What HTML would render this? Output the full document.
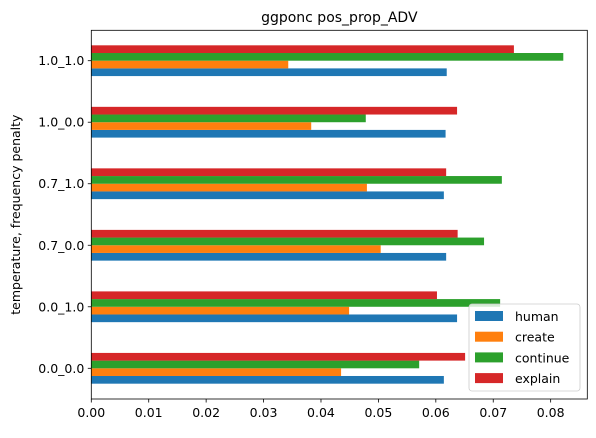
<!DOCTYPE html>
<html><head><meta charset="utf-8"><style>
body{margin:0;background:#fff;font-family:"Liberation Sans","DejaVu Sans",sans-serif}
svg text{font-family:"DejaVu Sans","Liberation Sans",sans-serif;fill:#000}
</style></head><body>
<svg id="c" width="596" height="433" xmlns="http://www.w3.org/2000/svg"></svg>
<script>
const categories=["0.0_0.0","0.0_1.0","0.7_0.0","0.7_1.0","1.0_0.0","1.0_1.0"];
const seriesNames=["human","create","continue","explain"];
const human=[0.0614,0.0637,0.0618,0.0614,0.0617,0.0619];
const create=[0.0435,0.0449,0.0504,0.0480,0.0383,0.0343];
const cont=[0.0571,0.0712,0.0684,0.0715,0.0478,0.0822];
const explain=[0.0651,0.0602,0.0638,0.0618,0.0637,0.0736];
const xTicks=[0,0.01,0.02,0.03,0.04,0.05,0.06,0.07,0.08];
const colors=["#1f77b4","#ff7f0e","#2ca02c","#d62728"];
const L=91.3,R=587.3,T=30.3,B=399;
const x=v=>L+v*5742;
const y=i=>368.3-i*61.52;
const svg=document.getElementById('c');
const NS="http://www.w3.org/2000/svg";
function mk(t,a,p){const e=document.createElementNS(NS,t);for(const k in a)e.setAttribute(k,a[k]);(p||svg).appendChild(e);return e;}
let e=mk('text',{x:(L+R)/2,y:22,'text-anchor':'middle','font-size':14});e.textContent="ggponc pos_prop_ADV";


const all=[human,create,cont,explain];
const bh=61.52*0.5/4;
all.forEach((s,si)=>{s.forEach((v,i)=>{
 const yc=y(i)+bh*2-(si+1)*bh;
 const r=mk('rect',{x:L,y:yc,width:x(v)-L,height:bh,fill:colors[si]});
 
 
});});
categories.forEach((c,i)=>{
 mk('line',{x1:L-3.5,x2:L,y1:y(i),y2:y(i),stroke:'#000','stroke-width':0.8});
 const t=mk('text',{x:L-7,y:y(i)+4.5,'text-anchor':'end','font-size':12.5});t.textContent=c;
 
 
});
xTicks.forEach(v=>{
 mk('line',{x1:x(v),x2:x(v),y1:B,y2:B+3.5,stroke:'#000','stroke-width':0.8});
 const t=mk('text',{x:x(v),y:B+18,'text-anchor':'middle','font-size':12.5});t.textContent=v.toFixed(2);
 
 
});
const fr=mk('rect',{x:L,y:T,width:R-L,height:B-T,fill:'none',stroke:'#000','stroke-width':0.8});


const yl=mk('text',{x:0,y:0,'text-anchor':'middle','font-size':12.5,transform:`translate(20,${(T+B)/2}) rotate(-90)`});yl.textContent="temperature, frequency penalty";


const lg=mk('g',{});


mk('rect',{x:469,y:304,width:111,height:87,rx:3,fill:'#fff','fill-opacity':0.8,stroke:'#ccc','stroke-width':0.8},lg);
seriesNames.forEach((n,i)=>{
 const yy=311+i*20.7;
 mk('rect',{x:475,y:yy,width:28,height:10,fill:colors[i]},lg);
 const t=mk('text',{x:515,y:yy+10,'font-size':12.5},lg);t.textContent=n;
 
 
});
</script>
</body></html>
